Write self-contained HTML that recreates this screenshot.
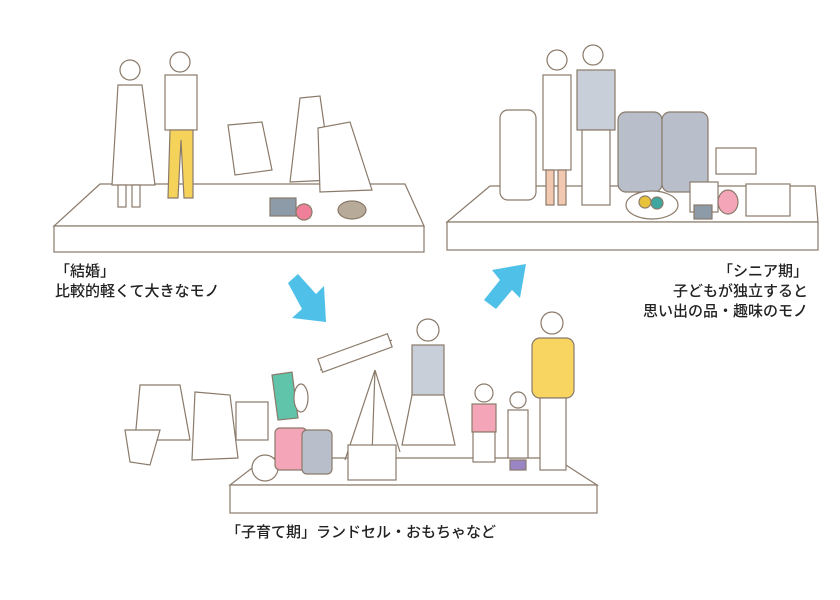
<!DOCTYPE html>
<html><head><meta charset="utf-8"><style>
body{margin:0;width:840px;height:600px;background:#fff;overflow:hidden;position:relative;font-family:"Liberation Sans","Noto Sans CJK JP",sans-serif;}
.t{position:absolute;font-size:15px;color:#222;line-height:20px;font-weight:500}
svg{position:absolute;left:0;top:0}
</style></head><body>
<svg width="840" height="600" viewBox="0 0 840 600" fill="none" stroke="#8a7a6a" stroke-width="1.2">
<!-- platform 1 -->
<polygon points="100,184 405,184 424,226 54,226" fill="#fff"/>
<rect x="54" y="226" width="370" height="26" fill="#fff"/>
<!-- platform 2 -->
<polygon points="490,186 815,186 818,222 447,222" fill="#fff"/>
<rect x="447" y="222" width="371" height="28" fill="#fff"/>
<!-- platform 3 -->
<polygon points="265,458 555,458 597,485 230,485" fill="#fff"/>
<rect x="230" y="485" width="367" height="28" fill="#fff"/>

<!-- arrows -->
<polygon points="288,283 298,274 316,294 324,286 326,322 292,318 302,309" fill="#4fc0e8" stroke="none"/>
<polygon points="484,300 496,309 512,290 520,298 526,264 492,270 500,280" fill="#4fc0e8" stroke="none"/>

<!-- scene 1 figures -->
<circle cx="130" cy="70" r="10" fill="#fff"/><path d="M118,85 L112,185 L155,185 L142,85Z" fill="#fff"/>
<rect x="118" y="185" width="8" height="22" fill="#fff"/><rect x="132" y="185" width="8" height="22" fill="#fff"/>
<circle cx="180" cy="62" r="10" fill="#fff"/><rect x="165" y="75" width="32" height="55" fill="#fff"/>
<path d="M170,130 L168,198 L178,198 L181,140 L184,198 L193,198 L193,130Z" fill="#f5d35a"/>
<path d="M228,125 L262,122 L272,170 L235,175Z" fill="#fff"/>
<path d="M300,98 L320,96 L332,180 L290,182Z" fill="#fff"/>
<path d="M318,128 L350,122 L372,190 L320,192Z" fill="#fff"/>
<rect x="270" y="198" width="26" height="18" fill="#8d9aa8"/>
<ellipse cx="304" cy="212" rx="8" ry="8" fill="#f07f9a"/>
<ellipse cx="352" cy="210" rx="14" ry="9" fill="#b8aa98"/>

<!-- scene 2 figures -->
<rect x="500" y="110" width="36" height="90" rx="8" fill="#fff"/>
<circle cx="557" cy="60" r="10" fill="#fff"/><rect x="543" y="75" width="28" height="95" fill="#fff"/>
<rect x="546" y="170" width="8" height="35" fill="#f2c8b0"/><rect x="558" y="170" width="8" height="35" fill="#f2c8b0"/>
<circle cx="593" cy="55" r="10" fill="#fff"/><rect x="577" y="70" width="38" height="60" fill="#c9cfd8"/>
<rect x="582" y="130" width="28" height="75" fill="#fff"/>
<rect x="618" y="112" width="44" height="80" rx="8" fill="#b8bfca"/>
<rect x="662" y="112" width="46" height="80" rx="8" fill="#b8bfca"/>
<rect x="716" y="148" width="40" height="26" fill="#fff"/>
<ellipse cx="652" cy="205" rx="26" ry="14" fill="#fff"/><circle cx="645" cy="202" r="6" fill="#e8c23a"/><circle cx="657" cy="203" r="6" fill="#3fa7a0"/>
<rect x="690" y="182" width="28" height="30" fill="#fff"/><rect x="694" y="205" width="18" height="14" fill="#8d9aa8"/>
<ellipse cx="728" cy="202" rx="10" ry="12" fill="#f4a6b8"/>
<rect x="746" y="184" width="44" height="32" fill="#fff"/>

<!-- scene 3 figures -->
<path d="M140,385 L180,385 L190,440 L135,440Z" fill="#fff"/>
<path d="M125,430 L160,430 L150,465 L130,462Z" fill="#fff"/>
<path d="M195,392 L230,395 L238,458 L192,460Z" fill="#fff"/>
<rect x="236" y="402" width="32" height="38" fill="#fff"/>
<path d="M272,375 L292,372 L298,418 L278,420Z" fill="#5fc4a9"/>
<ellipse cx="301" cy="398" rx="7" ry="14" fill="#fff"/>
<ellipse cx="265" cy="468" rx="13" ry="13" fill="#fff"/>
<rect x="275" y="428" width="32" height="42" rx="5" fill="#f4a6b8"/>
<rect x="302" y="430" width="30" height="44" rx="5" fill="#b8bfca"/>
<line x1="320" y1="370" x2="392" y2="340"/><rect x="318" y="346" width="74" height="14" transform="rotate(-20 355 353)" fill="#fff"/>
<path d="M375,370 L345,460 M375,370 L400,452 M375,370 L372,455"/>
<rect x="348" y="445" width="48" height="35" fill="#fff"/>
<circle cx="428" cy="330" r="11" fill="#fff"/><rect x="412" y="345" width="32" height="55" fill="#c9cfd8"/>
<path d="M412,395 L402,445 L455,445 L444,395Z" fill="#fff"/>
<circle cx="484" cy="393" r="9" fill="#fff"/><rect x="472" y="404" width="24" height="28" fill="#f4a6b8"/><rect x="473" y="432" width="22" height="30" fill="#fff"/>
<circle cx="518" cy="400" r="8" fill="#fff"/><rect x="508" y="410" width="20" height="48" fill="#fff"/><rect x="510" y="460" width="16" height="10" fill="#9a85c5"/>
<circle cx="552" cy="323" r="11" fill="#fff"/><rect x="532" y="338" width="42" height="60" rx="8" fill="#f7d560"/>
<rect x="540" y="398" width="26" height="72" fill="#fff"/>
</svg>
<div class="t" style="left:55px;top:262px">「結婚」<br>比較的軽くて大きなモノ</div>
<div class="t" style="left:610px;top:262px;text-align:right;width:198px">「シニア期」<br>子どもが独立すると<br>思い出の品・趣味のモノ</div>
<div class="t" style="left:226px;top:523px">「子育て期」ランドセル・おもちゃなど</div>
</body></html>
